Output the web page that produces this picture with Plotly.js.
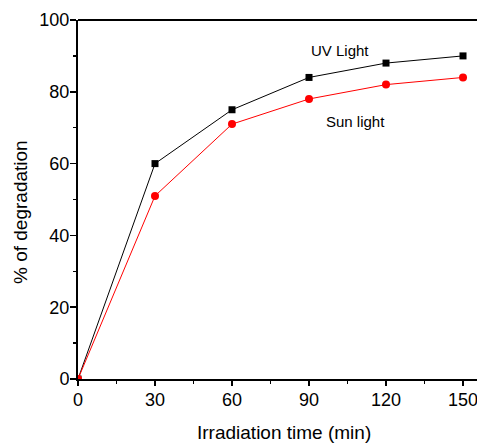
<!DOCTYPE html>
<html>
<head>
<meta charset="utf-8">
<script src="https://cdn.plot.ly/plotly-3.0.1.min.js"></script>
<style>html,body{margin:0;padding:0;background:#fff;}#chart{width:477px;height:444px;}</style>
</head>
<body>
<div id="chart"></div>
<script>
const time = [0, 30, 60, 90, 120, 150];
const uvLight = [0, 60, 75, 84, 88, 90];
const sunLight = [0, 51, 71, 78, 82, 84];
const xTicks = [0, 30, 60, 90, 120, 150];
const yTicks = [0, 20, 40, 60, 80, 100];
const seriesNames = ["UV Light", "Sun light"];

const font = "Liberation Sans, Arial, sans-serif";

const traces = [
  {x: time, y: uvLight, name: seriesNames[0], mode: "lines+markers", type: "scatter",
   line: {color: "#000000", width: 1}, marker: {symbol: "square", size: 7, color: "#000000"}},
  {x: time, y: sunLight, name: seriesNames[1], mode: "lines+markers", type: "scatter",
   line: {color: "#ff0000", width: 1}, marker: {symbol: "circle", size: 8, color: "#ff0000"}}
];

const layout = {
  width: 477, height: 444,
  margin: {l: 78, r: 0, t: 20, b: 65},
  paper_bgcolor: "#fff", plot_bgcolor: "#fff",
  showlegend: false,
  font: {family: font, color: "#000"},
  xaxis: {
    range: [0, 155.45], tickvals: xTicks, ticktext: xTicks.map(String),
    showgrid: false, zeroline: false, showline: true, linecolor: "#000", linewidth: 2,
    ticks: "outside", ticklen: 5, tickwidth: 1.5, tickcolor: "#000",
    tickfont: {size: 18, family: font}, ticklabeloverflow: "allow", ticklabelstandoff: -2,
    minor: {dtick: 15, tick0: 15, ticks: "outside", ticklen: 3, tickwidth: 1.5, tickcolor: "#000", showgrid: false}
  },
  yaxis: {
    range: [0, 100], tickvals: yTicks, ticktext: yTicks.map(String),
    showgrid: false, zeroline: false, showline: true, linecolor: "#000", linewidth: 2,
    ticks: "outside", ticklen: 6, tickwidth: 1.5, tickcolor: "#000",
    tickfont: {size: 18, family: font}, ticklabelstandoff: -3,
    minor: {dtick: 10, tick0: 10, ticks: "outside", ticklen: 3, tickwidth: 1.5, tickcolor: "#000", showgrid: false}
  },
  shapes: [
    {type: "line", xref: "paper", yref: "paper", x0: 0, x1: 1, y0: 1, y1: 1, line: {color: "#000", width: 2}}
  ],
  annotations: [
    {text: seriesNames[0], x: 102.1, y: 91.6, xref: "x", yref: "y", showarrow: false,
     font: {size: 15, family: font, color: "#000"}},
    {text: seriesNames[1], x: 108.3, y: 71.6, xref: "x", yref: "y", showarrow: false,
     font: {size: 15, family: font, color: "#000"}},
    {text: "Irradiation time (min)", xref: "paper", yref: "paper", x: (283.5 - 78) / 399, y: -(432.5 - 379) / 359,
     showarrow: false, xanchor: "center", yanchor: "middle", font: {size: 19, family: font, color: "#000"}},
    {text: "% of degradation", xref: "paper", yref: "paper", x: -(78 - 21) / 399, y: (379 - 212) / 359,
     showarrow: false, textangle: -90, xanchor: "center", yanchor: "middle", font: {size: 19, family: font, color: "#000"}}
  ]
};

Plotly.newPlot("chart", traces, layout, {displayModeBar: false, staticPlot: true});
</script>
</body>
</html>
